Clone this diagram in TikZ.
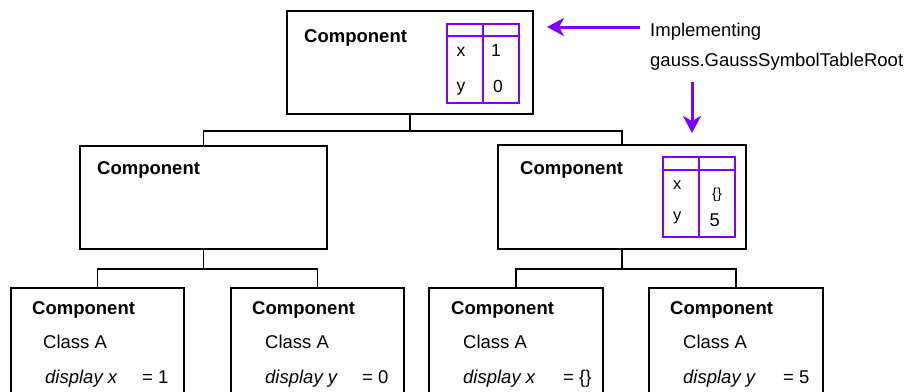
\documentclass[tikz,border=0pt]{standalone}
\usepackage{fontspec}
\setmainfont{Liberation Sans}
\usetikzlibrary{arrows.meta}
\definecolor{implviolet}{RGB}{128,0,255}
\begin{document}
\begin{tikzpicture}[x=1pt,y=-1pt,
  box/.style={draw=black, line width=1.8pt, rectangle, anchor=north west, inner sep=0pt, outer sep=0pt},
  tblbox/.style={draw=implviolet, line width=1.8pt, rectangle, anchor=north west, inner sep=0pt, outer sep=0pt},
  tblline/.style={draw=implviolet, line width=1.8pt},
  link/.style={draw=black, line width=1.8pt},
  arr/.style={draw=implviolet, line width=3pt, -{Stealth[length=17pt,width=18pt,inset=5pt]}},
  title/.style={font=\fontsize{18.5}{22}\selectfont\bfseries, anchor=base west, inner sep=0pt},
  txt/.style={font=\fontsize{18.5}{22}\selectfont, anchor=base west, inner sep=0pt},
  itxt/.style={font=\fontsize{18.5}{22}\selectfont\itshape, anchor=base west, inner sep=0pt},
  cell/.style={font=\fontsize{17.5}{20}\selectfont, anchor=base west, inner sep=0pt},
]
\useasboundingbox (0,0) rectangle (910,391);
\clip (0,0) rectangle (910,391);

% component boxes
\node[box, minimum width=246pt, minimum height=103pt] (root) at (287,11) {};
\node[box, minimum width=247pt, minimum height=103pt] (midL) at (80,146) {};
\node[box, minimum width=248pt, minimum height=104pt] (midR) at (498,145) {};
\node[box, minimum width=173pt, minimum height=130pt] (leafA) at (11,288) {};
\node[box, minimum width=173pt, minimum height=130pt] (leafB) at (231,288) {};
\node[box, minimum width=174pt, minimum height=130pt] (leafC) at (429,288) {};
\node[box, minimum width=174pt, minimum height=130pt] (leafD) at (649,288) {};

% tree connectors
\draw[link] (root.south) -- ++(0,17) coordinate (busTop);
\draw[link] (midL.north) |- (busTop) -| (midR.north);
\draw[link] (midL.south) -- ++(0,20) coordinate (busL);
\draw[link] (leafA.north) |- (busL) -| (leafB.north);
\draw[link] (midR.south) -- ++(0,20) coordinate (busR);
\draw[link] (leafC.north) |- (busR) -| (leafD.north);

% titles
\node[title] (tRoot) at (304,42) {Component};
\node[title] (tMidL) at (97,174.5) {Component};
\node[title] (tMidR) at (520,174.5) {Component};
\node[title] (tLeafA) at (32,314.3) {Component};
\node[title] (tLeafB) at (252,314.3) {Component};
\node[title] (tLeafC) at (451,314.3) {Component};
\node[title] (tLeafD) at (670,314.3) {Component};

% leaf contents
\node[txt] (cA) at (43,348.3) {Class A};
\node[txt] (cB) at (265,348.3) {Class A};
\node[txt] (cC) at (463,348.3) {Class A};
\node[txt] (cD) at (683,348.3) {Class A};
\node[itxt] (dA) at (45,383.3) {display x};
\node[itxt] (dB) at (265,383.3) {display y};
\node[itxt] (dC) at (463,383.3) {display x};
\node[itxt] (dD) at (683,383.3) {display y};
\node[txt] (vA) at (142,383.3) {= 1};
\node[txt] (vB) at (362,383.3) {= 0};
\node[txt] (vC) at (563,383.3) {= \{\}};
\node[txt] (vD) at (783,383.3) {= 5};

% symbol table of the root
\node[tblbox, minimum width=72pt, minimum height=79pt] (tabRoot) at (447,24) {};
\draw[tblline] ([yshift=-12pt]tabRoot.north west) -- ([yshift=-12pt]tabRoot.north east);
\draw[tblline] (tabRoot.north) -- (tabRoot.south);
\node[cell] (rx) at (456.5,56.7) {x};
\node[cell] (ry) at (456.5,91) {y};
\node[cell] (r1) at (491,56.7) {1};
\node[cell] (r0) at (493,92.7) {0};

% symbol table of the right component
\node[tblbox, minimum width=72pt, minimum height=80pt] (tabMid) at (663,157) {};
\draw[tblline] ([yshift=-13pt]tabMid.north west) -- ([yshift=-13pt]tabMid.north east);
\draw[tblline] (tabMid.north) -- (tabMid.south);
\node[cell, font=\fontsize{16.5}{19}\selectfont] (mx) at (673,189.3) {x};
\node[cell, font=\fontsize{16.5}{19}\selectfont] (my) at (673,220) {y};
\node[cell, font=\fontsize{14.5}{17}\selectfont] (mBraces) at (712,198) {\{\}};
\node[cell, font=\fontsize{18.5}{21}\selectfont] (m5) at (709.5,226.7) {5};

% annotation
\node[txt] (impl) at (650,36) {Implementing};
\node[txt] (gauss) at (650,66.7) {gauss.GaussSymbolTableRoot};
\coordinate (arrL) at (640,27);
\coordinate (arrD) at (692,82);
\draw[arr, shorten >=14pt] (arrL) -- (root.east |- arrL);
\draw[arr, shorten >=12pt] (arrD) -- (arrD |- midR.north);
\end{tikzpicture}
\end{document}
